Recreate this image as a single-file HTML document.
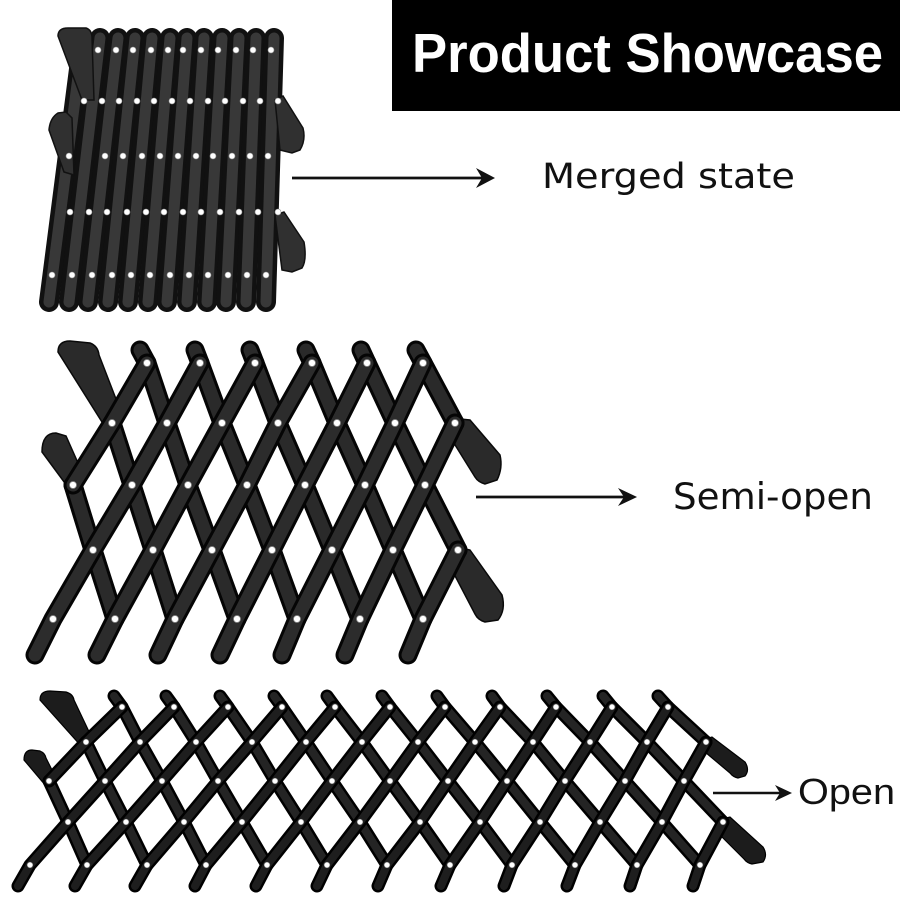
<!DOCTYPE html>
<html><head><meta charset="utf-8"><style>
html,body{margin:0;padding:0;background:#fff;}
svg{display:block;}
</style></head><body>
<svg width="900" height="900" viewBox="0 0 900 900" xmlns="http://www.w3.org/2000/svg">
<defs>
<g id="mb">
<line x1="83" y1="38" x2="49" y2="302"/>
<line x1="100" y1="38" x2="69" y2="302"/>
<line x1="118" y1="38" x2="88" y2="302"/>
<line x1="135" y1="38" x2="108" y2="302"/>
<line x1="152" y1="38" x2="128" y2="302"/>
<line x1="170" y1="38" x2="148" y2="302"/>
<line x1="187" y1="38" x2="167" y2="302"/>
<line x1="204" y1="38" x2="187" y2="302"/>
<line x1="222" y1="38" x2="207" y2="302"/>
<line x1="239" y1="38" x2="226" y2="302"/>
<line x1="256" y1="38" x2="246" y2="302"/>
<line x1="274" y1="38" x2="266" y2="302"/>
</g>
<g id="sq">
<polyline points="140,350 147,363 167,423 188,485 212,550 237,619"/>
<polyline points="195,350 200,363 222,423 247,485 272,550 297,619"/>
<polyline points="250,350 255,363 278,423 305,485 332,550 360,619"/>
<polyline points="306,350 312,363 337,423 365,485 393,550 423,619"/>
<polyline points="361,350 367,363 395,423 425,485 458,550"/>
<polyline points="416,350 423,363 455,423"/>
<polyline points="112,423 132,485 153,550 175,619"/>
<polyline points="73,485 93,550 115,619"/>
</g>
<g id="sp">
<polyline points="147,363 112,423 73,485"/>
<polyline points="200,363 167,423 132,485 93,550 53,619 35,655"/>
<polyline points="255,363 222,423 188,485 153,550 115,619 97,655"/>
<polyline points="312,363 278,423 247,485 212,550 175,619 158,655"/>
<polyline points="367,363 337,423 305,485 272,550 237,619 220,655"/>
<polyline points="423,363 395,423 365,485 332,550 297,619 282,655"/>
<polyline points="455,423 425,485 393,550 360,619 345,655"/>
<polyline points="458,550 423,619 408,655"/>
</g>
<g id="oq">
<polyline points="114,696 122,707 140,742 162,781 184,822 206,865"/>
<polyline points="166,696 174,707 196,742 218,781 242,822 267,865"/>
<polyline points="220,696 228,707 252,742 275,781 301,822 327,865"/>
<polyline points="274,696 282,707 306,742 332,781 360,822 387,865"/>
<polyline points="327,696 335,707 362,742 390,781 420,822 450,865"/>
<polyline points="382,696 390,707 418,742 448,781 480,822 512,865"/>
<polyline points="437,696 445,707 475,742 507,781 540,822 575,865"/>
<polyline points="492,696 500,707 533,742 565,781 600,822 637,865"/>
<polyline points="547,696 556,707 590,742 625,781 662,822 700,865"/>
<polyline points="603,696 612,707 647,742 684,781 723,822"/>
<polyline points="658,696 668,707 706,742"/>
<polyline points="86,742 105,781 126,822 147,865"/>
<polyline points="49,781 68,822 87,865"/>
</g>
<g id="op">
<polyline points="122,707 86,742 49,781"/>
<polyline points="174,707 140,742 105,781 68,822 30,865 18,886"/>
<polyline points="228,707 196,742 162,781 126,822 87,865 75,886"/>
<polyline points="282,707 252,742 218,781 184,822 147,865 135,886"/>
<polyline points="335,707 306,742 275,781 242,822 206,865 195,886"/>
<polyline points="390,707 362,742 332,781 301,822 267,865 256,886"/>
<polyline points="445,707 418,742 390,781 360,822 327,865 317,886"/>
<polyline points="500,707 475,742 448,781 420,822 387,865 378,886"/>
<polyline points="556,707 533,742 507,781 480,822 450,865 441,886"/>
<polyline points="612,707 590,742 565,781 540,822 512,865 504,886"/>
<polyline points="668,707 647,742 625,781 600,822 575,865 567,886"/>
<polyline points="706,742 684,781 662,822 637,865 630,886"/>
<polyline points="723,822 700,865 693,886"/>
</g>
</defs>

<!-- Title -->
<rect x="392" y="0" width="508" height="111" fill="#000"/>
<text x="412" y="72" font-family="Liberation Sans, sans-serif" font-weight="bold" font-size="55" fill="#fff" textLength="471" lengthAdjust="spacingAndGlyphs">Product Showcase</text>

<!-- Merged state -->
<use href="#mb" stroke="#111" stroke-width="20" stroke-linecap="round"/>
<use href="#mb" stroke="#383838" stroke-width="11" stroke-linecap="round"/>
<g fill="#303030" stroke="#111" stroke-width="1.5">
<path d="M58,36 Q58,28 68,28 L86,28 Q92,30 92,38 L94,100 L82,100 Z"/>
<path d="M49,130 Q50,118 58,113 L66,112 L72,118 L74,175 L64,172 Z"/>
<path d="M275,100 L283,96 L303,128 Q306,140 300,150 L292,153 L280,150 Z"/>
<path d="M275,215 L284,212 L304,242 Q307,260 302,268 L292,272 L282,270 Z"/>
</g>
<g fill="#fff" stroke="#999" stroke-width="0.6">
<circle cx="98" cy="50" r="3"/><circle cx="116" cy="50" r="3"/><circle cx="133" cy="50" r="3"/><circle cx="151" cy="50" r="3"/><circle cx="168" cy="50" r="3"/><circle cx="183" cy="50" r="3"/><circle cx="201" cy="50" r="3"/><circle cx="218" cy="50" r="3"/><circle cx="236" cy="50" r="3"/><circle cx="253" cy="50" r="3"/><circle cx="271" cy="50" r="3"/>
<circle cx="84" cy="101" r="3"/><circle cx="102" cy="101" r="3"/><circle cx="119" cy="101" r="3"/><circle cx="137" cy="101" r="3"/><circle cx="154" cy="101" r="3"/><circle cx="172" cy="101" r="3"/><circle cx="190" cy="101" r="3"/><circle cx="208" cy="101" r="3"/><circle cx="225" cy="101" r="3"/><circle cx="243" cy="101" r="3"/><circle cx="260" cy="101" r="3"/><circle cx="278" cy="101" r="3"/>
<circle cx="69" cy="156" r="3"/><circle cx="105" cy="156" r="3"/><circle cx="123" cy="156" r="3"/><circle cx="142" cy="156" r="3"/><circle cx="160" cy="156" r="3"/><circle cx="178" cy="156" r="3"/><circle cx="196" cy="156" r="3"/><circle cx="213" cy="156" r="3"/><circle cx="232" cy="156" r="3"/><circle cx="250" cy="156" r="3"/><circle cx="268" cy="156" r="3"/>
<circle cx="70" cy="212" r="3"/><circle cx="89" cy="212" r="3"/><circle cx="107" cy="212" r="3"/><circle cx="127" cy="212" r="3"/><circle cx="146" cy="212" r="3"/><circle cx="164" cy="212" r="3"/><circle cx="183" cy="212" r="3"/><circle cx="201" cy="212" r="3"/><circle cx="220" cy="212" r="3"/><circle cx="239" cy="212" r="3"/><circle cx="258" cy="212" r="3"/><circle cx="278" cy="212" r="3"/>
<circle cx="52" cy="275" r="3"/><circle cx="72" cy="275" r="3"/><circle cx="92" cy="275" r="3"/><circle cx="112" cy="275" r="3"/><circle cx="131" cy="275" r="3"/><circle cx="150" cy="275" r="3"/><circle cx="170" cy="275" r="3"/><circle cx="189" cy="275" r="3"/><circle cx="208" cy="275" r="3"/><circle cx="228" cy="275" r="3"/><circle cx="247" cy="275" r="3"/><circle cx="266" cy="275" r="3"/>
</g>
<line x1="292" y1="178" x2="484" y2="178" stroke="#111" stroke-width="2.8"/>
<path d="M495,178 L476,168 L482,178 L476,188 Z" fill="#111"/>
<text x="542" y="188" font-family="DejaVu Sans, sans-serif" font-size="35" fill="#111" textLength="253" lengthAdjust="spacingAndGlyphs">Merged state</text>

<!-- Semi-open -->
<g fill="#2a2a2a" stroke="#0a0a0a" stroke-width="1.5">
<path d="M58,352 Q58,341 70,341 L90,343 Q98,346 99,355 L121,412 L102,422 Z"/>
<path d="M42,452 Q42,433 56,433 L66,436 L82,472 L70,490 Z"/>
<path d="M450,418 L470,420 L500,455 Q503,468 497,480 L485,484 Q478,482 475,477 L452,440 Z"/>
<path d="M453,546 L470,550 L502,595 Q506,610 498,620 L485,622 Q478,620 475,614 L453,572 Z"/>
</g>
<use href="#sq" fill="none" stroke="#050505" stroke-width="19" stroke-linecap="round" stroke-linejoin="round"/>
<use href="#sq" fill="none" stroke="#2a2a2a" stroke-width="13" stroke-linecap="round" stroke-linejoin="round"/>
<use href="#sp" fill="none" stroke="#050505" stroke-width="19" stroke-linecap="round" stroke-linejoin="round"/>
<use href="#sp" fill="none" stroke="#2c2c2c" stroke-width="13" stroke-linecap="round" stroke-linejoin="round"/>
<g fill="#fff" stroke="#888" stroke-width="0.8">
<circle cx="147" cy="363" r="3.5"/><circle cx="200" cy="363" r="3.5"/><circle cx="255" cy="363" r="3.5"/><circle cx="312" cy="363" r="3.5"/><circle cx="367" cy="363" r="3.5"/><circle cx="423" cy="363" r="3.5"/>
<circle cx="112" cy="423" r="3.5"/><circle cx="167" cy="423" r="3.5"/><circle cx="222" cy="423" r="3.5"/><circle cx="278" cy="423" r="3.5"/><circle cx="337" cy="423" r="3.5"/><circle cx="395" cy="423" r="3.5"/><circle cx="455" cy="423" r="3.5"/>
<circle cx="73" cy="485" r="3.5"/><circle cx="132" cy="485" r="3.5"/><circle cx="188" cy="485" r="3.5"/><circle cx="247" cy="485" r="3.5"/><circle cx="305" cy="485" r="3.5"/><circle cx="365" cy="485" r="3.5"/><circle cx="425" cy="485" r="3.5"/>
<circle cx="93" cy="550" r="3.5"/><circle cx="153" cy="550" r="3.5"/><circle cx="212" cy="550" r="3.5"/><circle cx="272" cy="550" r="3.5"/><circle cx="332" cy="550" r="3.5"/><circle cx="393" cy="550" r="3.5"/><circle cx="458" cy="550" r="3.5"/>
<circle cx="53" cy="619" r="3.5"/><circle cx="115" cy="619" r="3.5"/><circle cx="175" cy="619" r="3.5"/><circle cx="237" cy="619" r="3.5"/><circle cx="297" cy="619" r="3.5"/><circle cx="360" cy="619" r="3.5"/><circle cx="423" cy="619" r="3.5"/>
</g>
<line x1="476" y1="497" x2="626" y2="497" stroke="#111" stroke-width="2.8"/>
<path d="M637,497 L618,488 L624,497 L618,506 Z" fill="#111"/>
<text x="673" y="509" font-family="DejaVu Sans, sans-serif" font-size="36.5" fill="#111" textLength="200" lengthAdjust="spacingAndGlyphs">Semi-open</text>

<!-- Open -->
<g fill="#1c1c1c" stroke="#000" stroke-width="1.2">
<path d="M40,700 Q40,691 50,691 L66,692 Q73,694 74,700 L92,738 L82,747 Z"/>
<path d="M24,760 Q24,750 32,750 L40,751 Q45,753 46,758 L56,778 L46,786 Z"/>
<path d="M702,740 L712,737 L745,762 Q750,770 745,776 L738,778 Q733,777 730,773 L705,752 Z"/>
<path d="M718,820 L730,817 L763,847 Q768,855 763,862 L752,864 Q747,863 744,859 L720,835 Z"/>
</g>
<use href="#oq" fill="none" stroke="#000" stroke-width="13" stroke-linecap="round" stroke-linejoin="round"/>
<use href="#oq" fill="none" stroke="#242424" stroke-width="8" stroke-linecap="round" stroke-linejoin="round"/>
<use href="#op" fill="none" stroke="#000" stroke-width="13" stroke-linecap="round" stroke-linejoin="round"/>
<use href="#op" fill="none" stroke="#1e1e1e" stroke-width="8" stroke-linecap="round" stroke-linejoin="round"/>
<g fill="#fff" stroke="#888" stroke-width="0.6">
<circle cx="122" cy="707" r="2.8"/><circle cx="174" cy="707" r="2.8"/><circle cx="228" cy="707" r="2.8"/><circle cx="282" cy="707" r="2.8"/><circle cx="335" cy="707" r="2.8"/><circle cx="390" cy="707" r="2.8"/><circle cx="445" cy="707" r="2.8"/><circle cx="500" cy="707" r="2.8"/><circle cx="556" cy="707" r="2.8"/><circle cx="612" cy="707" r="2.8"/><circle cx="668" cy="707" r="2.8"/>
<circle cx="86" cy="742" r="2.8"/><circle cx="140" cy="742" r="2.8"/><circle cx="196" cy="742" r="2.8"/><circle cx="252" cy="742" r="2.8"/><circle cx="306" cy="742" r="2.8"/><circle cx="362" cy="742" r="2.8"/><circle cx="418" cy="742" r="2.8"/><circle cx="475" cy="742" r="2.8"/><circle cx="533" cy="742" r="2.8"/><circle cx="590" cy="742" r="2.8"/><circle cx="647" cy="742" r="2.8"/><circle cx="706" cy="742" r="2.8"/>
<circle cx="49" cy="781" r="2.8"/><circle cx="105" cy="781" r="2.8"/><circle cx="162" cy="781" r="2.8"/><circle cx="218" cy="781" r="2.8"/><circle cx="275" cy="781" r="2.8"/><circle cx="332" cy="781" r="2.8"/><circle cx="390" cy="781" r="2.8"/><circle cx="448" cy="781" r="2.8"/><circle cx="507" cy="781" r="2.8"/><circle cx="565" cy="781" r="2.8"/><circle cx="625" cy="781" r="2.8"/><circle cx="684" cy="781" r="2.8"/>
<circle cx="68" cy="822" r="2.8"/><circle cx="126" cy="822" r="2.8"/><circle cx="184" cy="822" r="2.8"/><circle cx="242" cy="822" r="2.8"/><circle cx="301" cy="822" r="2.8"/><circle cx="360" cy="822" r="2.8"/><circle cx="420" cy="822" r="2.8"/><circle cx="480" cy="822" r="2.8"/><circle cx="540" cy="822" r="2.8"/><circle cx="600" cy="822" r="2.8"/><circle cx="662" cy="822" r="2.8"/><circle cx="723" cy="822" r="2.8"/>
<circle cx="30" cy="865" r="2.8"/><circle cx="87" cy="865" r="2.8"/><circle cx="147" cy="865" r="2.8"/><circle cx="206" cy="865" r="2.8"/><circle cx="267" cy="865" r="2.8"/><circle cx="327" cy="865" r="2.8"/><circle cx="387" cy="865" r="2.8"/><circle cx="450" cy="865" r="2.8"/><circle cx="512" cy="865" r="2.8"/><circle cx="575" cy="865" r="2.8"/><circle cx="637" cy="865" r="2.8"/><circle cx="700" cy="865" r="2.8"/>
</g>
<line x1="713" y1="793" x2="781" y2="793" stroke="#111" stroke-width="2.6"/>
<path d="M792,793 L775,785 L780,793 L775,801 Z" fill="#111"/>
<text x="798" y="804" font-family="Liberation Sans, sans-serif" font-size="36" fill="#111" textLength="97" lengthAdjust="spacingAndGlyphs">Open</text>
</svg>
</body></html>
